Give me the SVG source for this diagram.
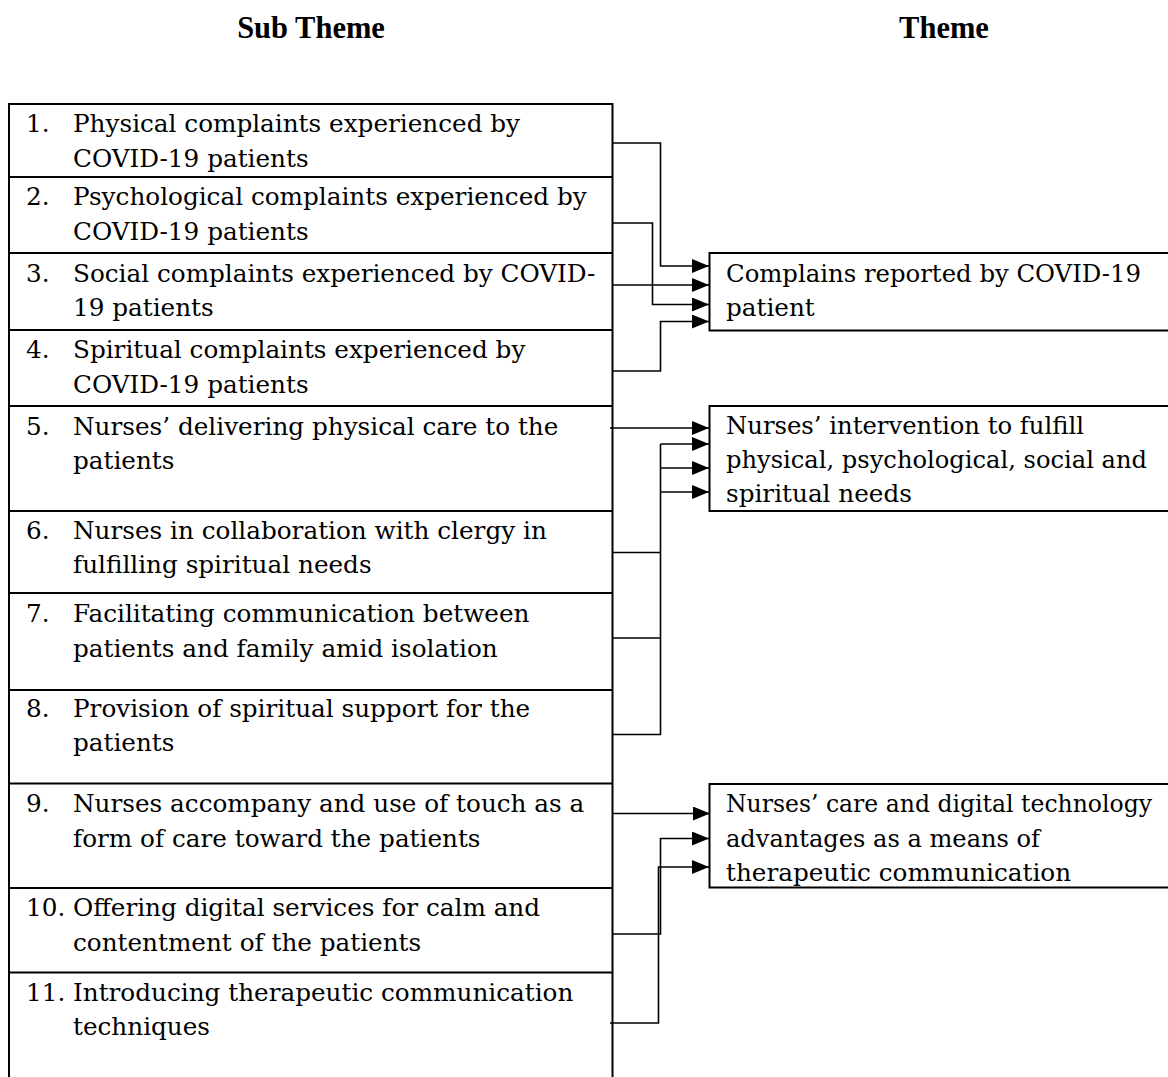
<svg xmlns="http://www.w3.org/2000/svg" width="1168" height="1077" viewBox="0 0 1168 1077">
<style>
.t{font-family:"DejaVu Serif","Liberation Serif",serif;font-size:24.7px;fill:#000}
.h{font-family:"Liberation Serif","DejaVu Serif",serif;font-size:30.5px;font-weight:bold;fill:#000;text-anchor:middle}
.box{fill:none;stroke:#000;stroke-width:2}
.c{fill:none;stroke:#000;stroke-width:1.6}
</style>
<defs>
<marker id="ah" markerUnits="userSpaceOnUse" markerWidth="18" markerHeight="15" refX="17" refY="7" orient="auto">
<path d="M0,0 L17,7 L0,14 Z" fill="#000"/>
</marker>
</defs>
<rect width="1168" height="1077" fill="#fff"/>
<text class="h" x="311" y="37.5">Sub Theme</text>
<text class="h" x="944" y="37.5">Theme</text>

<g id="subthemes">
<rect class="box" x="9" y="104" width="603.5" height="1000"/>
<g id="s1"><line class="box" x1="9" y1="177" x2="612.5" y2="177"/>
<text class="t" x="26" y="132">1.</text><text class="t" x="73" y="132">Physical complaints experienced by</text><text class="t" x="73" y="166.5">COVID-19 patients</text></g>
<g id="s2"><line class="box" x1="9" y1="253" x2="612.5" y2="253"/>
<text class="t" x="26" y="205">2.</text><text class="t" x="73" y="205">Psychological complaints experienced by</text><text class="t" x="73" y="239.5">COVID-19 patients</text></g>
<g id="s3"><line class="box" x1="9" y1="330" x2="612.5" y2="330"/>
<text class="t" x="26" y="281.5">3.</text><text class="t" x="73" y="281.5">Social complaints experienced by COVID-</text><text class="t" x="73" y="316">19 patients</text></g>
<g id="s4"><line class="box" x1="9" y1="406" x2="612.5" y2="406"/>
<text class="t" x="26" y="358">4.</text><text class="t" x="73" y="358">Spiritual complaints experienced by</text><text class="t" x="73" y="392.5">COVID-19 patients</text></g>
<g id="s5"><line class="box" x1="9" y1="511" x2="612.5" y2="511"/>
<text class="t" x="26" y="435">5.</text><text class="t" x="73" y="435">Nurses’ delivering physical care to the</text><text class="t" x="73" y="469">patients</text></g>
<g id="s6"><line class="box" x1="9" y1="593" x2="612.5" y2="593"/>
<text class="t" x="26" y="538.5">6.</text><text class="t" x="73" y="538.5">Nurses in collaboration with clergy in</text><text class="t" x="73" y="573">fulfilling spiritual needs</text></g>
<g id="s7"><line class="box" x1="9" y1="690" x2="612.5" y2="690"/>
<text class="t" x="26" y="622">7.</text><text class="t" x="73" y="622">Facilitating communication between</text><text class="t" x="73" y="656.5">patients and family amid isolation</text></g>
<g id="s8"><line class="box" x1="9" y1="783.5" x2="612.5" y2="783.5"/>
<text class="t" x="26" y="717">8.</text><text class="t" x="73" y="717">Provision of spiritual support for the</text><text class="t" x="73" y="751">patients</text></g>
<g id="s9"><line class="box" x1="9" y1="888" x2="612.5" y2="888"/>
<text class="t" x="26" y="812">9.</text><text class="t" x="73" y="812">Nurses accompany and use of touch as a</text><text class="t" x="73" y="846.5">form of care toward the patients</text></g>
<g id="s10"><line class="box" x1="9" y1="972.5" x2="612.5" y2="972.5"/>
<text class="t" x="26" y="916">10.</text><text class="t" x="73" y="916">Offering digital services for calm and</text><text class="t" x="73" y="950.5">contentment of the patients</text></g>
<g id="s11">
<text class="t" x="26" y="1000.5">11.</text><text class="t" x="73" y="1000.5">Introducing therapeutic communication</text><text class="t" x="73" y="1035">techniques</text></g>
</g>

<g id="theme1"><rect class="box" x="709.5" y="253" width="480" height="77.5"/>
<text class="t" x="726" y="282" textLength="415" lengthAdjust="spacingAndGlyphs">Complains reported by COVID-19</text><text class="t" x="726" y="316">patient</text></g>
<g id="theme2"><rect class="box" x="709.5" y="406" width="480" height="105"/>
<text class="t" x="726" y="433.5" textLength="358" lengthAdjust="spacingAndGlyphs">Nurses’ intervention to fulfill</text><text class="t" x="726" y="468" textLength="421" lengthAdjust="spacingAndGlyphs">physical, psychological, social and</text><text class="t" x="726" y="502">spiritual needs</text></g>
<g id="theme3"><rect class="box" x="709.5" y="784" width="480" height="103.5"/>
<text class="t" x="726" y="812" style="font-size:23.4px" textLength="426" lengthAdjust="spacingAndGlyphs">Nurses’ care and digital technology</text><text class="t" x="726" y="846.5" textLength="314" lengthAdjust="spacingAndGlyphs">advantages as a means of</text><text class="t" x="726" y="880.5">therapeutic communication</text></g>

<g id="connectors">
<path class="c" d="M612.5,143 H660.5 V266 H709" marker-end="url(#ah)"/>
<path class="c" d="M612.5,223 H652.5 V304.5 H709" marker-end="url(#ah)"/>
<path class="c" d="M612.5,285 H709" marker-end="url(#ah)"/>
<path class="c" d="M612.5,371 H660.5 V321.5 H709" marker-end="url(#ah)"/>
<path class="c" d="M610,428 H709" marker-end="url(#ah)"/>
<path class="c" d="M660.5,444 H709" marker-end="url(#ah)"/>
<path class="c" d="M660.5,468 H709" marker-end="url(#ah)"/>
<path class="c" d="M660.5,492 H709" marker-end="url(#ah)"/>
<path class="c" d="M660.5,444 V734.5"/>
<path class="c" d="M612.5,552.5 H660.5"/>
<path class="c" d="M612.5,638 H660.5"/>
<path class="c" d="M612.5,734.5 H661"/>
<path class="c" d="M612.5,813.5 H710" marker-end="url(#ah)"/>
<path class="c" d="M612.5,934 H660.5 V838.5 H709" marker-end="url(#ah)"/>
<path class="c" d="M610,1023 H658.5 V867 H709" marker-end="url(#ah)"/>
</g>
</svg>
